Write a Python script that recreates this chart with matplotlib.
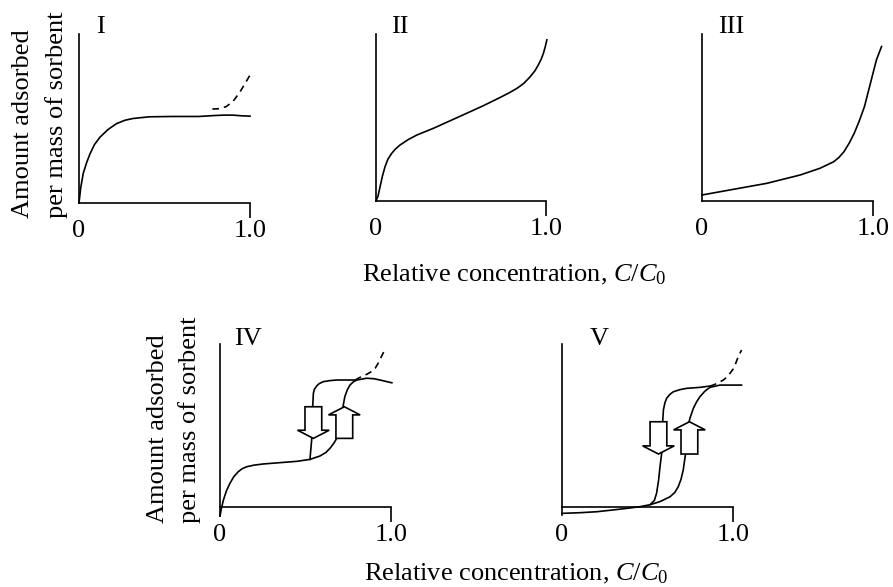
import matplotlib
matplotlib.use("Agg")
import matplotlib.pyplot as plt

plt.rcParams["font.family"] = ["Liberation Serif", "DejaVu Serif"]
plt.rcParams["mathtext.fontset"] = "custom"
plt.rcParams["mathtext.rm"] = "Liberation Serif"
plt.rcParams["mathtext.it"] = "Liberation Serif:italic"

# Isoterma I (Langmuir)
x_I = [0, 0.01, 0.025, 0.045, 0.064, 0.09, 0.123, 0.17, 0.22, 0.27, 0.316, 0.41, 0.55, 0.7, 0.8, 0.85, 0.9, 0.95, 1.0]
y_I = [0, 0.09, 0.176, 0.24, 0.29, 0.345, 0.39, 0.435, 0.47, 0.49, 0.50, 0.51, 0.512, 0.512, 0.518, 0.52, 0.52, 0.516, 0.514]
x_I_dash = [0.78, 0.82, 0.86, 0.9, 0.94, 0.97, 1.0]
y_I_dash = [0.556, 0.558, 0.57, 0.6, 0.655, 0.705, 0.757]

# Isoterma II
x_II = [0, 0.012, 0.024, 0.038, 0.053, 0.07, 0.092, 0.115, 0.141, 0.19, 0.24, 0.337, 0.435, 0.533, 0.63, 0.73, 0.78, 0.83, 0.87, 0.906, 0.935, 0.955, 0.972, 0.985, 0.996, 1.005]
y_II = [0, 0.03, 0.086, 0.15, 0.205, 0.25, 0.285, 0.312, 0.335, 0.368, 0.395, 0.435, 0.48, 0.525, 0.57, 0.62, 0.646, 0.675, 0.705, 0.743, 0.78, 0.815, 0.85, 0.885, 0.925, 0.965]

# Isoterma III
x_III = [0, 0.184, 0.38, 0.575, 0.69, 0.77, 0.80, 0.83, 0.86, 0.89, 0.92, 0.95, 0.97, 0.99, 1.02, 1.05]
y_III = [0.036, 0.07, 0.106, 0.156, 0.196, 0.235, 0.26, 0.295, 0.345, 0.405, 0.48, 0.565, 0.645, 0.725, 0.845, 0.925]

# Isoterma IV: adsorbimento, desorbimento, tratteggio
x_IV_ads = [0, 0.008, 0.02, 0.038, 0.058, 0.08, 0.107, 0.13, 0.156, 0.2, 0.253, 0.35, 0.448, 0.526, 0.585, 0.62, 0.643, 0.665, 0.682, 0.697, 0.71, 0.72, 0.73, 0.745, 0.76, 0.78, 0.80, 0.857, 0.9, 0.936, 1.005]
y_IV_ads = [-0.055, -0.01, 0.043, 0.1, 0.145, 0.185, 0.217, 0.235, 0.247, 0.257, 0.264, 0.272, 0.28, 0.292, 0.313, 0.335, 0.36, 0.39, 0.42, 0.48, 0.553, 0.62, 0.677, 0.72, 0.748, 0.768, 0.779, 0.79, 0.787, 0.779, 0.762]
x_IV_des = [0.526, 0.536, 0.542, 0.546, 0.552, 0.565, 0.58, 0.604, 0.64, 0.682, 0.74, 0.79]
y_IV_des = [0.292, 0.411, 0.615, 0.697, 0.722, 0.742, 0.757, 0.769, 0.775, 0.779, 0.779, 0.779]
x_IV_dash = [0.79, 0.828, 0.86, 0.886, 0.908, 0.925, 0.944, 0.965]
y_IV_dash = [0.779, 0.80, 0.815, 0.831, 0.852, 0.882, 0.923, 0.967]

# Isoterma V
x_V_ads = [0, 0.105, 0.203, 0.30, 0.398, 0.456, 0.515, 0.573, 0.632, 0.66, 0.68, 0.696, 0.709, 0.723, 0.739, 0.748, 0.768, 0.787, 0.807, 0.835, 0.865, 0.924, 0.982, 1.05]
y_V_ads = [-0.039, -0.035, -0.029, -0.018, -0.006, 0.002, 0.014, 0.033, 0.063, 0.09, 0.125, 0.17, 0.227, 0.33, 0.503, 0.544, 0.605, 0.645, 0.677, 0.71, 0.734, 0.748, 0.748, 0.748]
x_V_des = [0.515, 0.54, 0.553, 0.565, 0.573, 0.583, 0.587, 0.593, 0.602, 0.612, 0.63, 0.651, 0.69, 0.729, 0.807, 0.865]
y_V_des = [0.014, 0.04, 0.084, 0.165, 0.247, 0.33, 0.493, 0.595, 0.64, 0.667, 0.69, 0.707, 0.72, 0.728, 0.734, 0.742]
x_V_dash = [0.865, 0.884, 0.915, 0.943, 0.965, 0.982, 1.0, 1.012, 1.031, 1.05]
y_V_dash = [0.742, 0.748, 0.762, 0.779, 0.797, 0.82, 0.845, 0.871, 0.923, 0.963]

# Frecce (x centro, y inizio, y fine)
arrows_IV = [(0.546, 0.615, 0.421), (0.727, 0.421, 0.615)]
arrows_V = [(0.564, 0.523, 0.325), (0.745, 0.325, 0.523)]

tick_pos = [0, 1.0]
tick_labels = ["0", "1.0"]
roman = ["I", "II", "III", "IV", "V"]

W, H = 893, 587
XLIM = (-0.03, 1.1)
YLIM = (-0.08, 1.06)
FS = 19
LW = 1.2

fig = plt.figure(figsize=(W / 100, H / 100), dpi=100)


def add_panel(px_x0, px_x1, px_y0, px_y1, name, lab_xy, ybottom=0):
    ux = px_x1 - px_x0
    uy = px_y0 - px_y1
    left = px_x0 + XLIM[0] * ux
    right = px_x0 + XLIM[1] * ux
    bottom = px_y0 - YLIM[0] * uy
    top = px_y0 - YLIM[1] * uy
    ax = fig.add_axes([left / W, 1 - bottom / H, (right - left) / W, (bottom - top) / H])
    ax.set_xlim(XLIM)
    ax.set_ylim(YLIM)
    ax.patch.set_visible(False)
    for s in ["top", "right"]:
        ax.spines[s].set_visible(False)
    ax.spines["left"].set_position(("data", 0))
    ax.spines["bottom"].set_position(("data", 0))
    ax.spines["left"].set_bounds(ybottom, 1)
    ax.spines["bottom"].set_bounds(0, 1)
    for s in ["left", "bottom"]:
        ax.spines[s].set_linewidth(LW)
    ax.set_yticks([])
    ax.set_xticks(tick_pos)
    ax.set_xticklabels(tick_labels, fontsize=FS)
    ax.tick_params(axis="x", length=11, width=LW, pad=1)
    ax.xaxis.get_major_ticks()[0].tick1line.set_visible(False)
    ax.text(lab_xy[0], lab_xy[1], name, fontsize=FS, ha="center", va="center")
    return ax


def draw_arrows(ax, arrows):
    for xc, ys, ye in arrows:
        ax.arrow(xc, ys, 0, ye - ys, width=0.098, head_width=0.185, head_length=0.05,
                 length_includes_head=True, fc="white", ec="black", lw=LW, zorder=5)


# Pannelli superiori
ax1 = add_panel(79, 250, 203, 34, roman[0], (0.123, 1.04))
ax1.plot(x_I, y_I, color="black", lw=LW)
ax1.plot(x_I_dash, y_I_dash, color="black", lw=LW, ls=(0, (4, 3)))

ax2 = add_panel(376, 546, 201, 34, roman[1], (0.141, 1.04))
ax2.plot(x_II, y_II, color="black", lw=LW)

ax3 = add_panel(702, 873, 201, 34, roman[2], (0.17, 1.04))
ax3.plot(x_III, y_III, color="black", lw=LW)

# Pannelli inferiori
ax4 = add_panel(220, 391, 507, 344, roman[3], (0.164, 1.03), ybottom=-0.055)
ax4.plot(x_IV_ads, y_IV_ads, color="black", lw=LW)
ax4.plot(x_IV_des, y_IV_des, color="black", lw=LW)
ax4.plot(x_IV_dash, y_IV_dash, color="black", lw=LW, ls=(0, (4, 3)))
draw_arrows(ax4, arrows_IV)

ax5 = add_panel(562, 733, 507, 344, roman[4], (0.216, 1.03), ybottom=-0.05)
ax5.plot(x_V_ads, y_V_ads, color="black", lw=LW)
ax5.plot(x_V_des, y_V_des, color="black", lw=LW)
ax5.plot(x_V_dash, y_V_dash, color="black", lw=LW, ls=(0, (4, 3)))
draw_arrows(ax5, arrows_V)

# Etichette assi
xlabel = "Relative concentration, $C/C_0$"
fig.text(514 / W, 1 - 275 / H, xlabel, fontsize=FS, ha="center", va="center")
fig.text(516 / W, 1 - 574 / H, xlabel, fontsize=FS, ha="center", va="center")

for xa, xb, yb in [(23, 57, 218), (158, 190, 523)]:
    fig.text(xa / W, 1 - yb / H, "Amount adsorbed", fontsize=FS, rotation=90, ha="center", va="bottom")
    fig.text(xb / W, 1 - yb / H, "per mass of sorbent", fontsize=FS, rotation=90, ha="center", va="bottom")

plt.savefig("out.png", dpi=100)
plt.close()
